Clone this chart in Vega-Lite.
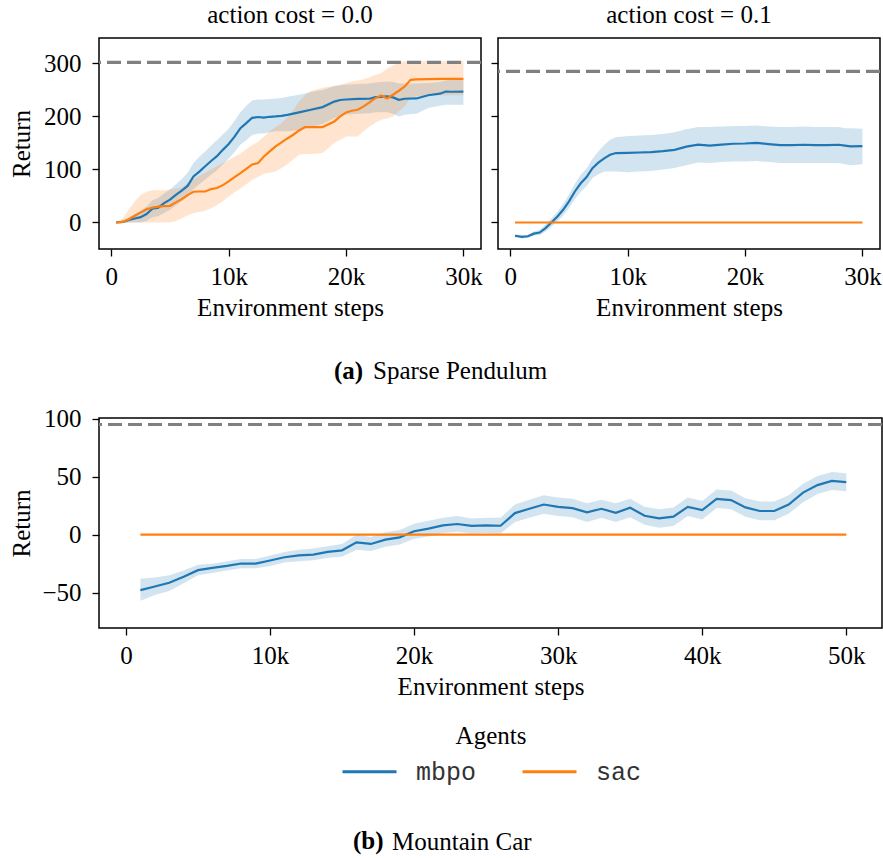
{
  "$schema": "https://vega.github.io/schema/vega-lite/v6.json",
  "background": "white",
  "padding": {"left": 8, "top": 2, "right": 0, "bottom": 0},
  "config": {
    "font": "Liberation Serif",
    "view": {"stroke": "black", "strokeWidth": 1.5},
    "axis": {
      "domain": false, "grid": false, "ticks": true,
      "tickColor": "black", "tickWidth": 1.3, "tickSize": 7,
      "labelFont": "Liberation Serif", "labelFontSize": 25, "labelColor": "black",
      "labelPadding": 8, "labelFlush": false, "labelOverlap": false,
      "titleFont": "Liberation Serif", "titleFontSize": 25, "titleFontWeight": "normal", "titleColor": "black"
    },
    "axisY": {"labelPadding": 11},
    "title": {
      "font": "Liberation Serif", "fontSize": 25, "fontWeight": "normal", "color": "black",
      "baseline": "alphabetic", "offset": 10
    }
  },
  "datasets": {
    "pendulum": [
      {"cost": "0.0", "agent": "mbpo", "step": 400, "mean": 0, "lo": -1, "hi": 1},
      {"cost": "0.0", "agent": "mbpo", "step": 1000, "mean": 1, "lo": -1, "hi": 4},
      {"cost": "0.0", "agent": "mbpo", "step": 1500, "mean": 5, "lo": 0, "hi": 10},
      {"cost": "0.0", "agent": "mbpo", "step": 2000, "mean": 7.6, "lo": 0, "hi": 16},
      {"cost": "0.0", "agent": "mbpo", "step": 2500, "mean": 10, "lo": 0, "hi": 22},
      {"cost": "0.0", "agent": "mbpo", "step": 3000, "mean": 16, "lo": 3, "hi": 30},
      {"cost": "0.0", "agent": "mbpo", "step": 3500, "mean": 26, "lo": 10, "hi": 42},
      {"cost": "0.0", "agent": "mbpo", "step": 4000, "mean": 28, "lo": 12, "hi": 46},
      {"cost": "0.0", "agent": "mbpo", "step": 4500, "mean": 36.5, "lo": 18, "hi": 55},
      {"cost": "0.0", "agent": "mbpo", "step": 5000, "mean": 43, "lo": 24, "hi": 62},
      {"cost": "0.0", "agent": "mbpo", "step": 5500, "mean": 52, "lo": 32, "hi": 72},
      {"cost": "0.0", "agent": "mbpo", "step": 6000, "mean": 60, "lo": 40, "hi": 82},
      {"cost": "0.0", "agent": "mbpo", "step": 6500, "mean": 69, "lo": 48, "hi": 94},
      {"cost": "0.0", "agent": "mbpo", "step": 7000, "mean": 87, "lo": 63, "hi": 112},
      {"cost": "0.0", "agent": "mbpo", "step": 7500, "mean": 96, "lo": 72, "hi": 124},
      {"cost": "0.0", "agent": "mbpo", "step": 8000, "mean": 106, "lo": 81, "hi": 134},
      {"cost": "0.0", "agent": "mbpo", "step": 8500, "mean": 116, "lo": 90, "hi": 145},
      {"cost": "0.0", "agent": "mbpo", "step": 9000, "mean": 125, "lo": 98, "hi": 155},
      {"cost": "0.0", "agent": "mbpo", "step": 9500, "mean": 137, "lo": 110, "hi": 166},
      {"cost": "0.0", "agent": "mbpo", "step": 10000, "mean": 148, "lo": 120, "hi": 177},
      {"cost": "0.0", "agent": "mbpo", "step": 10500, "mean": 162, "lo": 133, "hi": 192},
      {"cost": "0.0", "agent": "mbpo", "step": 11000, "mean": 178, "lo": 147, "hi": 208},
      {"cost": "0.0", "agent": "mbpo", "step": 11500, "mean": 187.5, "lo": 155, "hi": 220},
      {"cost": "0.0", "agent": "mbpo", "step": 12000, "mean": 197.5, "lo": 165, "hi": 230},
      {"cost": "0.0", "agent": "mbpo", "step": 12500, "mean": 199, "lo": 168, "hi": 232},
      {"cost": "0.0", "agent": "mbpo", "step": 13000, "mean": 198, "lo": 168, "hi": 232},
      {"cost": "0.0", "agent": "mbpo", "step": 13500, "mean": 199.4, "lo": 170, "hi": 233},
      {"cost": "0.0", "agent": "mbpo", "step": 14000, "mean": 200, "lo": 172, "hi": 234},
      {"cost": "0.0", "agent": "mbpo", "step": 14500, "mean": 201, "lo": 172, "hi": 235},
      {"cost": "0.0", "agent": "mbpo", "step": 15000, "mean": 203, "lo": 172, "hi": 237},
      {"cost": "0.0", "agent": "mbpo", "step": 16000, "mean": 207.6, "lo": 174, "hi": 241},
      {"cost": "0.0", "agent": "mbpo", "step": 17000, "mean": 212.6, "lo": 180, "hi": 246},
      {"cost": "0.0", "agent": "mbpo", "step": 18000, "mean": 217.7, "lo": 186, "hi": 250},
      {"cost": "0.0", "agent": "mbpo", "step": 19000, "mean": 228, "lo": 197, "hi": 257},
      {"cost": "0.0", "agent": "mbpo", "step": 19500, "mean": 231, "lo": 200, "hi": 259},
      {"cost": "0.0", "agent": "mbpo", "step": 20000, "mean": 232, "lo": 203, "hi": 260},
      {"cost": "0.0", "agent": "mbpo", "step": 21000, "mean": 233, "lo": 205, "hi": 261},
      {"cost": "0.0", "agent": "mbpo", "step": 22000, "mean": 233.4, "lo": 206, "hi": 262},
      {"cost": "0.0", "agent": "mbpo", "step": 22500, "mean": 236.5, "lo": 208, "hi": 264},
      {"cost": "0.0", "agent": "mbpo", "step": 23000, "mean": 237, "lo": 208, "hi": 265},
      {"cost": "0.0", "agent": "mbpo", "step": 23500, "mean": 238, "lo": 208, "hi": 266},
      {"cost": "0.0", "agent": "mbpo", "step": 24000, "mean": 236, "lo": 205, "hi": 265},
      {"cost": "0.0", "agent": "mbpo", "step": 24500, "mean": 231.5, "lo": 200, "hi": 262},
      {"cost": "0.0", "agent": "mbpo", "step": 25000, "mean": 233.4, "lo": 203, "hi": 262},
      {"cost": "0.0", "agent": "mbpo", "step": 26000, "mean": 234, "lo": 205, "hi": 262},
      {"cost": "0.0", "agent": "mbpo", "step": 27000, "mean": 240, "lo": 216, "hi": 263},
      {"cost": "0.0", "agent": "mbpo", "step": 28000, "mean": 243, "lo": 220, "hi": 265},
      {"cost": "0.0", "agent": "mbpo", "step": 28500, "mean": 247, "lo": 222, "hi": 268},
      {"cost": "0.0", "agent": "mbpo", "step": 29000, "mean": 246.6, "lo": 222, "hi": 270},
      {"cost": "0.0", "agent": "mbpo", "step": 30000, "mean": 247, "lo": 222, "hi": 270},

      {"cost": "0.0", "agent": "sac", "step": 400, "mean": 0, "lo": 0, "hi": 1},
      {"cost": "0.0", "agent": "sac", "step": 1000, "mean": 1, "lo": 0, "hi": 8},
      {"cost": "0.0", "agent": "sac", "step": 1500, "mean": 6, "lo": 0, "hi": 25},
      {"cost": "0.0", "agent": "sac", "step": 2000, "mean": 12.6, "lo": 0, "hi": 40},
      {"cost": "0.0", "agent": "sac", "step": 2500, "mean": 19, "lo": 0, "hi": 52},
      {"cost": "0.0", "agent": "sac", "step": 3000, "mean": 25, "lo": 0, "hi": 58},
      {"cost": "0.0", "agent": "sac", "step": 3500, "mean": 28, "lo": 0, "hi": 61},
      {"cost": "0.0", "agent": "sac", "step": 4000, "mean": 30, "lo": 0, "hi": 61},
      {"cost": "0.0", "agent": "sac", "step": 4500, "mean": 31, "lo": 0, "hi": 61},
      {"cost": "0.0", "agent": "sac", "step": 5000, "mean": 31.5, "lo": 0, "hi": 62},
      {"cost": "0.0", "agent": "sac", "step": 5500, "mean": 38, "lo": 3, "hi": 64},
      {"cost": "0.0", "agent": "sac", "step": 6000, "mean": 44, "lo": 8, "hi": 66},
      {"cost": "0.0", "agent": "sac", "step": 6500, "mean": 51.6, "lo": 13, "hi": 74},
      {"cost": "0.0", "agent": "sac", "step": 7000, "mean": 58, "lo": 18, "hi": 82},
      {"cost": "0.0", "agent": "sac", "step": 7500, "mean": 58.5, "lo": 20, "hi": 88},
      {"cost": "0.0", "agent": "sac", "step": 8000, "mean": 58.5, "lo": 22, "hi": 94},
      {"cost": "0.0", "agent": "sac", "step": 8500, "mean": 63, "lo": 27, "hi": 100},
      {"cost": "0.0", "agent": "sac", "step": 9000, "mean": 65, "lo": 33, "hi": 106},
      {"cost": "0.0", "agent": "sac", "step": 9500, "mean": 70.5, "lo": 40, "hi": 112},
      {"cost": "0.0", "agent": "sac", "step": 10000, "mean": 77.5, "lo": 49, "hi": 118},
      {"cost": "0.0", "agent": "sac", "step": 10500, "mean": 85.6, "lo": 57, "hi": 124},
      {"cost": "0.0", "agent": "sac", "step": 11000, "mean": 93, "lo": 64, "hi": 130},
      {"cost": "0.0", "agent": "sac", "step": 11500, "mean": 101, "lo": 72, "hi": 138},
      {"cost": "0.0", "agent": "sac", "step": 12000, "mean": 109.5, "lo": 80, "hi": 146},
      {"cost": "0.0", "agent": "sac", "step": 12500, "mean": 112, "lo": 86, "hi": 152},
      {"cost": "0.0", "agent": "sac", "step": 13000, "mean": 124.6, "lo": 92, "hi": 162},
      {"cost": "0.0", "agent": "sac", "step": 13500, "mean": 134, "lo": 94, "hi": 172},
      {"cost": "0.0", "agent": "sac", "step": 14000, "mean": 143.5, "lo": 96, "hi": 180},
      {"cost": "0.0", "agent": "sac", "step": 14500, "mean": 151, "lo": 103, "hi": 187},
      {"cost": "0.0", "agent": "sac", "step": 15000, "mean": 158.5, "lo": 110, "hi": 198},
      {"cost": "0.0", "agent": "sac", "step": 15500, "mean": 165.5, "lo": 119, "hi": 212},
      {"cost": "0.0", "agent": "sac", "step": 16000, "mean": 173.6, "lo": 128, "hi": 228},
      {"cost": "0.0", "agent": "sac", "step": 16500, "mean": 180, "lo": 129, "hi": 240},
      {"cost": "0.0", "agent": "sac", "step": 17000, "mean": 180, "lo": 129, "hi": 248},
      {"cost": "0.0", "agent": "sac", "step": 18000, "mean": 180, "lo": 131, "hi": 254},
      {"cost": "0.0", "agent": "sac", "step": 19000, "mean": 190.6, "lo": 150, "hi": 258},
      {"cost": "0.0", "agent": "sac", "step": 19500, "mean": 200, "lo": 156, "hi": 260},
      {"cost": "0.0", "agent": "sac", "step": 20000, "mean": 207.6, "lo": 162, "hi": 263},
      {"cost": "0.0", "agent": "sac", "step": 20500, "mean": 210.7, "lo": 162, "hi": 266},
      {"cost": "0.0", "agent": "sac", "step": 21000, "mean": 212.6, "lo": 162, "hi": 268},
      {"cost": "0.0", "agent": "sac", "step": 21500, "mean": 219, "lo": 172, "hi": 270},
      {"cost": "0.0", "agent": "sac", "step": 22000, "mean": 226.5, "lo": 181, "hi": 274},
      {"cost": "0.0", "agent": "sac", "step": 22500, "mean": 234.6, "lo": 188, "hi": 278},
      {"cost": "0.0", "agent": "sac", "step": 23000, "mean": 239.6, "lo": 194, "hi": 282},
      {"cost": "0.0", "agent": "sac", "step": 23500, "mean": 234, "lo": 196, "hi": 290},
      {"cost": "0.0", "agent": "sac", "step": 24000, "mean": 241, "lo": 200, "hi": 296},
      {"cost": "0.0", "agent": "sac", "step": 24500, "mean": 248.5, "lo": 210, "hi": 302},
      {"cost": "0.0", "agent": "sac", "step": 25000, "mean": 256.7, "lo": 219, "hi": 304},
      {"cost": "0.0", "agent": "sac", "step": 25500, "mean": 269, "lo": 236, "hi": 304},
      {"cost": "0.0", "agent": "sac", "step": 26000, "mean": 270, "lo": 238, "hi": 304},
      {"cost": "0.0", "agent": "sac", "step": 27000, "mean": 270.5, "lo": 240, "hi": 304},
      {"cost": "0.0", "agent": "sac", "step": 28000, "mean": 271, "lo": 240, "hi": 304},
      {"cost": "0.0", "agent": "sac", "step": 29000, "mean": 271, "lo": 240, "hi": 304},
      {"cost": "0.0", "agent": "sac", "step": 30000, "mean": 271, "lo": 240, "hi": 304},

      {"cost": "0.1", "agent": "mbpo", "step": 400, "mean": -25, "lo": -28, "hi": -22},
      {"cost": "0.1", "agent": "mbpo", "step": 1000, "mean": -27, "lo": -30, "hi": -24},
      {"cost": "0.1", "agent": "mbpo", "step": 1500, "mean": -26, "lo": -29, "hi": -23},
      {"cost": "0.1", "agent": "mbpo", "step": 2000, "mean": -21, "lo": -25, "hi": -17},
      {"cost": "0.1", "agent": "mbpo", "step": 2500, "mean": -19, "lo": -24, "hi": -14},
      {"cost": "0.1", "agent": "mbpo", "step": 3000, "mean": -10.6, "lo": -17, "hi": -4},
      {"cost": "0.1", "agent": "mbpo", "step": 3500, "mean": 0, "lo": -8, "hi": 8},
      {"cost": "0.1", "agent": "mbpo", "step": 4000, "mean": 11, "lo": 2, "hi": 20},
      {"cost": "0.1", "agent": "mbpo", "step": 4500, "mean": 24, "lo": 13, "hi": 35},
      {"cost": "0.1", "agent": "mbpo", "step": 5000, "mean": 40, "lo": 27, "hi": 53},
      {"cost": "0.1", "agent": "mbpo", "step": 5500, "mean": 58.5, "lo": 44, "hi": 73},
      {"cost": "0.1", "agent": "mbpo", "step": 6000, "mean": 74, "lo": 58, "hi": 90},
      {"cost": "0.1", "agent": "mbpo", "step": 6500, "mean": 85.6, "lo": 69, "hi": 102},
      {"cost": "0.1", "agent": "mbpo", "step": 7000, "mean": 102.6, "lo": 84, "hi": 120},
      {"cost": "0.1", "agent": "mbpo", "step": 7500, "mean": 113, "lo": 91, "hi": 134},
      {"cost": "0.1", "agent": "mbpo", "step": 8000, "mean": 121, "lo": 96, "hi": 146},
      {"cost": "0.1", "agent": "mbpo", "step": 8500, "mean": 127.7, "lo": 96, "hi": 156},
      {"cost": "0.1", "agent": "mbpo", "step": 9000, "mean": 131, "lo": 96, "hi": 161},
      {"cost": "0.1", "agent": "mbpo", "step": 10000, "mean": 131.5, "lo": 95, "hi": 163},
      {"cost": "0.1", "agent": "mbpo", "step": 11000, "mean": 132, "lo": 96, "hi": 164},
      {"cost": "0.1", "agent": "mbpo", "step": 12000, "mean": 132.8, "lo": 97, "hi": 165},
      {"cost": "0.1", "agent": "mbpo", "step": 13000, "mean": 134.6, "lo": 100, "hi": 167},
      {"cost": "0.1", "agent": "mbpo", "step": 14000, "mean": 137, "lo": 103, "hi": 170},
      {"cost": "0.1", "agent": "mbpo", "step": 15000, "mean": 143, "lo": 108, "hi": 176},
      {"cost": "0.1", "agent": "mbpo", "step": 16000, "mean": 147, "lo": 113, "hi": 180},
      {"cost": "0.1", "agent": "mbpo", "step": 17000, "mean": 145, "lo": 112, "hi": 180},
      {"cost": "0.1", "agent": "mbpo", "step": 18000, "mean": 147, "lo": 114, "hi": 181},
      {"cost": "0.1", "agent": "mbpo", "step": 19000, "mean": 148.5, "lo": 115, "hi": 182},
      {"cost": "0.1", "agent": "mbpo", "step": 20000, "mean": 149, "lo": 115, "hi": 182},
      {"cost": "0.1", "agent": "mbpo", "step": 21000, "mean": 150, "lo": 116, "hi": 183},
      {"cost": "0.1", "agent": "mbpo", "step": 22000, "mean": 148, "lo": 114, "hi": 181},
      {"cost": "0.1", "agent": "mbpo", "step": 23000, "mean": 146, "lo": 112, "hi": 180},
      {"cost": "0.1", "agent": "mbpo", "step": 24000, "mean": 146, "lo": 112, "hi": 180},
      {"cost": "0.1", "agent": "mbpo", "step": 25000, "mean": 146.6, "lo": 112, "hi": 181},
      {"cost": "0.1", "agent": "mbpo", "step": 26000, "mean": 146, "lo": 112, "hi": 180},
      {"cost": "0.1", "agent": "mbpo", "step": 27000, "mean": 146, "lo": 112, "hi": 180},
      {"cost": "0.1", "agent": "mbpo", "step": 28000, "mean": 146.6, "lo": 112, "hi": 180},
      {"cost": "0.1", "agent": "mbpo", "step": 28500, "mean": 145, "lo": 110, "hi": 178},
      {"cost": "0.1", "agent": "mbpo", "step": 29000, "mean": 143.5, "lo": 108, "hi": 178},
      {"cost": "0.1", "agent": "mbpo", "step": 30000, "mean": 144, "lo": 110, "hi": 177},

      {"cost": "0.1", "agent": "sac", "step": 400, "mean": 0, "lo": -0.6, "hi": 0.6},
      {"cost": "0.1", "agent": "sac", "step": 5000, "mean": 0, "lo": -0.6, "hi": 0.6},
      {"cost": "0.1", "agent": "sac", "step": 10000, "mean": 0, "lo": -0.6, "hi": 0.6},
      {"cost": "0.1", "agent": "sac", "step": 15000, "mean": 0, "lo": -0.6, "hi": 0.6},
      {"cost": "0.1", "agent": "sac", "step": 20000, "mean": 0, "lo": -0.6, "hi": 0.6},
      {"cost": "0.1", "agent": "sac", "step": 25000, "mean": 0, "lo": -0.6, "hi": 0.6},
      {"cost": "0.1", "agent": "sac", "step": 30000, "mean": 0, "lo": -0.6, "hi": 0.6}
    ],
    "pendulum_best": [
      {"cost": "0.0", "best": 302},
      {"cost": "0.1", "best": 285}
    ],
    "car": [
      {"agent": "mbpo", "step": 1000, "mean": -47.8, "lo": -57, "hi": -38},
      {"agent": "mbpo", "step": 2000, "mean": -44.7, "lo": -52, "hi": -37},
      {"agent": "mbpo", "step": 3000, "mean": -41.5, "lo": -48.5, "hi": -35},
      {"agent": "mbpo", "step": 4000, "mean": -36.4, "lo": -42, "hi": -31},
      {"agent": "mbpo", "step": 5000, "mean": -30.6, "lo": -35, "hi": -26},
      {"agent": "mbpo", "step": 6000, "mean": -28.6, "lo": -33, "hi": -25},
      {"agent": "mbpo", "step": 7000, "mean": -26.9, "lo": -31, "hi": -23},
      {"agent": "mbpo", "step": 8000, "mean": -24.9, "lo": -29, "hi": -21},
      {"agent": "mbpo", "step": 9000, "mean": -24.9, "lo": -29, "hi": -21},
      {"agent": "mbpo", "step": 10000, "mean": -22.3, "lo": -27, "hi": -18},
      {"agent": "mbpo", "step": 11000, "mean": -19.5, "lo": -24, "hi": -15},
      {"agent": "mbpo", "step": 12000, "mean": -17.8, "lo": -23, "hi": -13},
      {"agent": "mbpo", "step": 13000, "mean": -17.2, "lo": -22, "hi": -12},
      {"agent": "mbpo", "step": 14000, "mean": -14.9, "lo": -20, "hi": -10},
      {"agent": "mbpo", "step": 15000, "mean": -13.5, "lo": -19, "hi": -8},
      {"agent": "mbpo", "step": 16000, "mean": -6.6, "lo": -13, "hi": 0},
      {"agent": "mbpo", "step": 17000, "mean": -8.0, "lo": -14, "hi": -2},
      {"agent": "mbpo", "step": 18000, "mean": -4.3, "lo": -10.5, "hi": 2},
      {"agent": "mbpo", "step": 19000, "mean": -2.3, "lo": -8.5, "hi": 4},
      {"agent": "mbpo", "step": 20000, "mean": 2.9, "lo": -3.5, "hi": 9.5},
      {"agent": "mbpo", "step": 21000, "mean": 5.2, "lo": -1.5, "hi": 12},
      {"agent": "mbpo", "step": 22000, "mean": 8.0, "lo": 1.5, "hi": 14.5},
      {"agent": "mbpo", "step": 23000, "mean": 9.2, "lo": 2.5, "hi": 16},
      {"agent": "mbpo", "step": 24000, "mean": 7.5, "lo": 1, "hi": 14},
      {"agent": "mbpo", "step": 25000, "mean": 8.0, "lo": 1.5, "hi": 14.5},
      {"agent": "mbpo", "step": 26000, "mean": 7.7, "lo": 1, "hi": 14.5},
      {"agent": "mbpo", "step": 27000, "mean": 18.6, "lo": 11, "hi": 26},
      {"agent": "mbpo", "step": 28000, "mean": 22.3, "lo": 14.5, "hi": 30},
      {"agent": "mbpo", "step": 29000, "mean": 26.0, "lo": 18, "hi": 34},
      {"agent": "mbpo", "step": 30000, "mean": 24.0, "lo": 16, "hi": 32},
      {"agent": "mbpo", "step": 31000, "mean": 22.9, "lo": 15, "hi": 31},
      {"agent": "mbpo", "step": 32000, "mean": 19.2, "lo": 11, "hi": 27},
      {"agent": "mbpo", "step": 33000, "mean": 22.3, "lo": 14.5, "hi": 30},
      {"agent": "mbpo", "step": 34000, "mean": 18.9, "lo": 11, "hi": 27},
      {"agent": "mbpo", "step": 35000, "mean": 23.2, "lo": 15, "hi": 31},
      {"agent": "mbpo", "step": 36000, "mean": 16.3, "lo": 8.5, "hi": 24},
      {"agent": "mbpo", "step": 37000, "mean": 14.0, "lo": 6, "hi": 22},
      {"agent": "mbpo", "step": 38000, "mean": 15.5, "lo": 7.5, "hi": 23.5},
      {"agent": "mbpo", "step": 39000, "mean": 24.0, "lo": 16, "hi": 32},
      {"agent": "mbpo", "step": 40000, "mean": 21.2, "lo": 13, "hi": 29},
      {"agent": "mbpo", "step": 41000, "mean": 30.9, "lo": 23, "hi": 39},
      {"agent": "mbpo", "step": 42000, "mean": 29.8, "lo": 22, "hi": 38},
      {"agent": "mbpo", "step": 43000, "mean": 23.5, "lo": 15.5, "hi": 31.5},
      {"agent": "mbpo", "step": 44000, "mean": 20.4, "lo": 12.5, "hi": 28.5},
      {"agent": "mbpo", "step": 45000, "mean": 20.4, "lo": 12.5, "hi": 28.5},
      {"agent": "mbpo", "step": 46000, "mean": 26.0, "lo": 18, "hi": 34},
      {"agent": "mbpo", "step": 47000, "mean": 36.3, "lo": 28, "hi": 44},
      {"agent": "mbpo", "step": 48000, "mean": 42.7, "lo": 35, "hi": 50.5},
      {"agent": "mbpo", "step": 49000, "mean": 46.4, "lo": 38.5, "hi": 54},
      {"agent": "mbpo", "step": 50000, "mean": 45.3, "lo": 37.5, "hi": 53},
      {"agent": "sac", "step": 1000, "mean": 0, "lo": -0.4, "hi": 0.4},
      {"agent": "sac", "step": 10000, "mean": 0, "lo": -0.4, "hi": 0.4},
      {"agent": "sac", "step": 20000, "mean": 0, "lo": -0.4, "hi": 0.4},
      {"agent": "sac", "step": 30000, "mean": 0, "lo": -0.4, "hi": 0.4},
      {"agent": "sac", "step": 40000, "mean": 0, "lo": -0.4, "hi": 0.4},
      {"agent": "sac", "step": 50000, "mean": 0, "lo": -0.4, "hi": 0.4}
    ],
    "car_best": [
      {"best": 95}
    ]
  },
  "align": "none",
  "spacing": 21,
  "resolve": {"scale": {"color": "independent"}},
  "vconcat": [
    {
      "title": {
        "text": "Sparse Pendulum", "orient": "bottom", "anchor": "start", "frame": "group",
        "baseline": "top", "offset": -25, "dx": 274, "fontWeight": "normal"
      },
      "vconcat": [
        {
          "spacing": 5,
          "title": {
            "text": "(a)", "orient": "bottom", "anchor": "start", "frame": "group",
            "baseline": "top", "offset": 38, "dx": 235, "fontWeight": "bold"
          },
          "hconcat": [
            {
              "width": 382,
              "height": 211,
              "title": {"text": "action cost = 0.0"},
              "layer": [
                {
                  "data": {"name": "pendulum"},
                  "transform": [{"filter": "datum.cost === '0.0'"}],
                  "mark": {"type": "area", "opacity": 0.2, "clip": true},
                  "encoding": {
                    "x": {"field": "step", "type": "quantitative",
                          "scale": {"domain": [-1050, 31500], "nice": false, "zero": false},
                          "axis": {"values": [0, 10000, 20000, 30000],
                                   "labelExpr": "datum.value === 0 ? '0' : datum.value / 1000 + 'k'",
                                   "title": "Environment steps", "minExtent": 42, "maxExtent": 42, "titlePadding": 4}},
                    "y": {"field": "lo", "type": "quantitative",
                          "scale": {"domain": [-50, 348], "nice": false, "zero": false},
                          "axis": {"values": [0, 100, 200, 300], "title": "Return",
                                   "minExtent": 55, "maxExtent": 55, "titlePadding": 10}},
                    "y2": {"field": "hi"},
                    "color": {"field": "agent", "type": "nominal",
                              "scale": {"domain": ["mbpo", "sac"], "range": ["#1f77b4", "#ff7f0e"]}, "legend": null}
                  }
                },
                {
                  "data": {"name": "pendulum"},
                  "transform": [{"filter": "datum.cost === '0.0'"}],
                  "mark": {"type": "line", "strokeWidth": 2.2, "clip": true},
                  "encoding": {
                    "x": {"field": "step", "type": "quantitative"},
                    "y": {"field": "mean", "type": "quantitative"},
                    "color": {"field": "agent", "type": "nominal",
                              "scale": {"domain": ["mbpo", "sac"], "range": ["#1f77b4", "#ff7f0e"]}, "legend": null}
                  }
                },
                {
                  "data": {"name": "pendulum_best"},
                  "transform": [{"filter": "datum.cost === '0.0'"}],
                  "mark": {"type": "rule", "color": "#808080", "strokeWidth": 3.2, "strokeDash": [14, 6]},
                  "encoding": {"y": {"field": "best", "type": "quantitative"}}
                }
              ]
            },
            {
              "width": 382,
              "height": 211,
              "title": {"text": "action cost = 0.1"},
              "layer": [
                {
                  "data": {"name": "pendulum"},
                  "transform": [{"filter": "datum.cost === '0.1'"}],
                  "mark": {"type": "area", "opacity": 0.2, "clip": true},
                  "encoding": {
                    "x": {"field": "step", "type": "quantitative",
                          "scale": {"domain": [-1050, 31500], "nice": false, "zero": false},
                          "axis": {"values": [0, 10000, 20000, 30000],
                                   "labelExpr": "datum.value === 0 ? '0' : datum.value / 1000 + 'k'",
                                   "title": "Environment steps", "minExtent": 42, "maxExtent": 42, "titlePadding": 4}},
                    "y": {"field": "lo", "type": "quantitative",
                          "scale": {"domain": [-50, 348], "nice": false, "zero": false},
                          "axis": {"values": [0, 100, 200, 300], "labels": false, "title": null}},
                    "y2": {"field": "hi"},
                    "color": {"field": "agent", "type": "nominal",
                              "scale": {"domain": ["mbpo", "sac"], "range": ["#1f77b4", "#ff7f0e"]}, "legend": null}
                  }
                },
                {
                  "data": {"name": "pendulum"},
                  "transform": [{"filter": "datum.cost === '0.1'"}],
                  "mark": {"type": "line", "strokeWidth": 2.2, "clip": true},
                  "encoding": {
                    "x": {"field": "step", "type": "quantitative"},
                    "y": {"field": "mean", "type": "quantitative"},
                    "color": {"field": "agent", "type": "nominal",
                              "scale": {"domain": ["mbpo", "sac"], "range": ["#1f77b4", "#ff7f0e"]}, "legend": null}
                  }
                },
                {
                  "data": {"name": "pendulum_best"},
                  "transform": [{"filter": "datum.cost === '0.1'"}],
                  "mark": {"type": "rule", "color": "#808080", "strokeWidth": 3.2, "strokeDash": [14, 6]},
                  "encoding": {"y": {"field": "best", "type": "quantitative"}}
                }
              ]
            }
          ]
        }
      ]
    },
    {
      "title": {
        "text": "Mountain Car", "orient": "bottom", "anchor": "start", "frame": "group",
        "baseline": "top", "offset": -25, "dx": 293, "fontWeight": "normal"
      },
      "vconcat": [
        {
          "width": 783,
          "height": 210,
          "title": {
            "text": "(b)", "orient": "bottom", "anchor": "start", "frame": "group",
            "baseline": "top", "offset": 130, "dx": 254, "fontWeight": "bold"
          },
          "layer": [
            {
              "data": {"name": "car"},
              "mark": {"type": "area", "opacity": 0.2, "clip": true},
              "encoding": {
                "x": {"field": "step", "type": "quantitative",
                      "scale": {"domain": [-1875, 52480], "nice": false, "zero": false},
                      "axis": {"values": [0, 10000, 20000, 30000, 40000, 50000],
                               "labelExpr": "datum.value === 0 ? '0' : datum.value / 1000 + 'k'",
                               "title": "Environment steps", "minExtent": 42, "maxExtent": 42, "titlePadding": 4}},
                "y": {"field": "lo", "type": "quantitative",
                      "scale": {"domain": [-80.5, 100.6], "nice": false, "zero": false},
                      "axis": {"values": [-50, 0, 50, 100], "title": "Return",
                               "minExtent": 55, "maxExtent": 55, "titlePadding": 10}},
                "y2": {"field": "hi"},
                "color": {"field": "agent", "type": "nominal",
                          "scale": {"domain": ["mbpo", "sac"], "range": ["#1f77b4", "#ff7f0e"]},
                          "legend": {
                            "title": "Agents", "orient": "none", "legendX": 242, "legendY": 306,
                            "direction": "horizontal", "padding": 0,
                            "titleFont": "Liberation Serif", "titleFontSize": 25, "titleFontWeight": "normal",
                            "titleColor": "black", "titleAnchor": "middle", "titlePadding": -6,
                            "labelFont": "Liberation Mono", "labelFontSize": 25, "labelColor": "#333333",
                            "labelOffset": 18, "columnPadding": 39,
                            "symbolType": "stroke", "symbolSize": 2916, "symbolStrokeWidth": 3, "symbolOpacity": 1
                          }}
              }
            },
            {
              "data": {"name": "car"},
              "mark": {"type": "line", "strokeWidth": 2.2, "clip": true},
              "encoding": {
                "x": {"field": "step", "type": "quantitative"},
                "y": {"field": "mean", "type": "quantitative"},
                "color": {"field": "agent", "type": "nominal",
                          "scale": {"domain": ["mbpo", "sac"], "range": ["#1f77b4", "#ff7f0e"]},
                          "legend": {
                            "title": "Agents", "orient": "none", "legendX": 242, "legendY": 306,
                            "direction": "horizontal", "padding": 0,
                            "titleFont": "Liberation Serif", "titleFontSize": 25, "titleFontWeight": "normal",
                            "titleColor": "black", "titleAnchor": "middle", "titlePadding": -6,
                            "labelFont": "Liberation Mono", "labelFontSize": 25, "labelColor": "#333333",
                            "labelOffset": 18, "columnPadding": 39,
                            "symbolType": "stroke", "symbolSize": 2916, "symbolStrokeWidth": 3, "symbolOpacity": 1
                          }}
              }
            },
            {
              "data": {"name": "car_best"},
              "mark": {"type": "rule", "color": "#808080", "strokeWidth": 3.2, "strokeDash": [14, 6]},
              "encoding": {"y": {"field": "best", "type": "quantitative"}}
            }
          ]
        }
      ]
    }
  ]
}
